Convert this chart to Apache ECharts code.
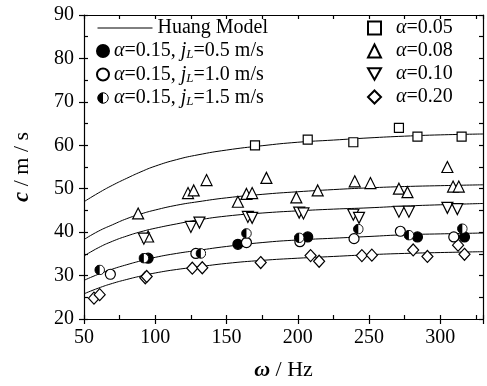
<!DOCTYPE html>
<html>
<head>
<meta charset="utf-8">
<script src="https://cdn.jsdelivr.net/npm/echarts@6/dist/echarts.min.js"></script>
<style>
  html, body {margin: 0; padding: 0; background: #fff;}
  #chart {width: 487px; height: 386px;}
</style>
</head>
<body>
<div id="chart"></div>
<script>
// model curves
const curveX = [50, 60, 70, 80, 90, 100, 115, 130, 150, 175, 200, 225, 250, 275, 300, 330];
const curveA005 = [47.0, 49.0, 50.8, 52.4, 53.9, 55.2, 56.7, 57.8, 58.9, 59.9, 60.7, 61.2, 61.7, 62.1, 62.4, 62.6];
const curveA008 = [38.3, 40.2, 41.7, 43.1, 44.2, 45.1, 46.2, 47.0, 47.9, 48.7, 49.3, 49.8, 50.2, 50.5, 50.7, 50.9];
const curveA010 = [34.5, 36.4, 37.9, 39.1, 40.1, 40.9, 41.9, 42.8, 43.7, 44.4, 44.9, 45.3, 45.6, 46.0, 46.3, 46.6];
const curveA015 = [28.9, 30.3, 31.5, 32.5, 33.4, 34.2, 35.1, 35.8, 36.7, 37.6, 38.2, 38.6, 39.0, 39.4, 39.6, 39.8];
const curveA020 = [25.8, 27.1, 28.2, 29.1, 29.9, 30.6, 31.4, 32.0, 32.8, 33.5, 34.0, 34.4, 34.8, 35.1, 35.3, 35.5];

// measured points [omega, c]
const ptsA005 = [[170, 60], [207, 61.3], [239, 60.7], [271, 64], [284, 62], [315, 62]];
const ptsA008 = [[88, 44.3], [95, 39], [123, 49], [127, 49.6], [136, 52], [158, 47], [164, 48.8], [168, 49],
  [178, 52.5], [199, 48], [214, 49.6], [240, 51.7], [251, 51.3], [271, 50], [277, 49.2], [305, 55], [309, 50.5], [313, 50.5]];
const ptsA010 = [[92, 38.5], [125, 41.2], [131, 42.2], [165, 43.5], [168, 43.3], [201, 44.5], [204, 44.3],
  [239, 44], [243, 43.3], [271, 44.7], [278, 44.7], [305, 45.6], [312, 45.3]];
const ptsA020 = [[57, 24.8], [61, 25.6], [93, 29.5], [94, 29.8], [126, 31.7], [133, 31.8], [174, 33], [209, 34.6],
  [215, 33.3], [245, 34.6], [252, 34.7], [281, 35.9], [291, 34.4], [312.5, 37], [317, 34.9]];
const ptsJ05 = [[95, 34], [158, 37.2], [207, 38.9], [284, 38.9], [317, 38.9]];
const ptsJ10 = [[68.5, 30.3], [128.5, 35.1], [164, 37.6], [201.5, 37.8], [239.5, 38.5], [272, 40.2], [309.5, 38.9]];
const ptsJ15 = [[61, 31.3], [92, 34], [132, 35.1], [164, 39.7], [201, 38.7], [242.5, 40.7], [278, 39.3], [315.5, 40.8]];

const FONT = 'Liberation Serif';
const FS = 20;

const halfSvg = "<svg xmlns='http://www.w3.org/2000/svg' width='24' height='24'>" +
  "<circle cx='12' cy='12' r='10.5' fill='#fff' stroke='#000' stroke-width='2'/>" +
  "<path d='M12 1.5 A10.5 10.5 0 0 0 12 22.5 Z' fill='#000'/></svg>";
const halfCircle = 'image://data:image/svg+xml;charset=utf-8,' + encodeURIComponent(halfSvg);
const downTri = 'path://M0,0 L12,0 L6,10.4 Z';

const rich = {
  i: {fontFamily: FONT, fontStyle: 'italic', fontSize: FS, color: '#000'},
  s: {fontFamily: FONT, fontStyle: 'italic', fontSize: 13, color: '#000', padding: [8, 0, 0, 0]},
  g: {width: 10}
};

const legendNames = {
  'j05': '{i|α}=0.15, {i|j}{s|L}=0.5 m/s',
  'j10': '{i|α}=0.15, {i|j}{s|L}=1.0 m/s',
  'j15': '{i|α}=0.15, {i|j}{s|L}=1.5 m/s',
  'a005': '{g|}{i|α}=0.05',
  'a008': '{g|}{i|α}=0.08',
  'a010': '{g|}{i|α}=0.10',
  'a020': '{g|}{i|α}=0.20'
};

function curve(ys) {
  return {
    name: 'Huang Model', type: 'line', smooth: true, symbol: 'none',
    lineStyle: {color: '#000', width: 1}, itemStyle: {color: '#000'},
    data: curveX.map((x, i) => [x, ys[i]]), z: 1
  };
}
function pts(name, data, symbol, size, filled) {
  return {
    name, type: 'scatter', data, symbol, symbolSize: size,
    itemStyle: {color: filled ? '#000' : '#fff', borderColor: '#000', borderWidth: 1.2, opacity: 1},
    z: 3
  };
}

const tickLine = {color: '#000', width: 1.2};
const legendText = {fontFamily: FONT, fontSize: FS, color: '#000', lineHeight: 18, rich};
const chart = echarts.init(document.getElementById('chart'));
chart.setOption({
  animation: false,
  backgroundColor: '#fff',
  grid: {left: 84, right: 4, top: 15, bottom: 65},
  legend: [
    {
      data: ['Huang Model'], left: 97, top: 18, padding: 0, itemWidth: 55, itemHeight: 14,
      itemStyle: {opacity: 0}, lineStyle: {width: 1},
      textStyle: {fontFamily: FONT, fontSize: FS, color: '#000', lineHeight: 18}
    },
    {
      data: ['j05', 'j10', 'j15'], orient: 'vertical', left: 96, top: 41, padding: 0,
      itemWidth: 12, itemHeight: 12, itemGap: 3,
      formatter: n => legendNames[n], textStyle: legendText
    },
    {
      data: ['a005', 'a008', 'a010', 'a020'], orient: 'vertical', left: 367, top: 18, padding: 0,
      itemWidth: 13, itemHeight: 13, itemGap: 3,
      formatter: n => legendNames[n], textStyle: legendText
    }
  ],
  xAxis: [
    {
      type: 'value', position: 'bottom', min: 50, max: 330, interval: 50,
      axisLine: {show: true, lineStyle: tickLine},
      axisTick: {show: true, inside: false, length: 5, lineStyle: tickLine},
      splitLine: {show: false},
      axisLabel: {
        fontFamily: FONT, fontSize: FS, color: '#000', margin: 9,
        formatter: v => (v % 50 === 0 ? String(v) : '')
      },
      name: '{i|ω} / Hz', nameLocation: 'middle', nameGap: 40,
      nameTextStyle: {fontFamily: FONT, fontSize: 22, color: '#000',
        rich: {i: {fontFamily: FONT, fontStyle: 'italic', fontWeight: 'bold', fontSize: 22, color: '#000'}}}
    },
    {
      type: 'value', position: 'bottom', min: 50, max: 330, interval: 25,
      axisLine: {show: false}, axisLabel: {show: false}, splitLine: {show: false},
      axisTick: {show: true, inside: true, length: 4, lineStyle: tickLine}
    },
    {
      type: 'value', position: 'top', min: 50, max: 330, interval: 25,
      axisLine: {show: true, lineStyle: tickLine}, axisLabel: {show: false}, splitLine: {show: false},
      axisTick: {show: true, inside: true, length: 4, lineStyle: tickLine}
    }
  ],
  yAxis: [
    {
      type: 'value', position: 'left', min: 20, max: 90, interval: 10,
      axisLine: {show: true, lineStyle: tickLine},
      axisTick: {show: true, inside: false, length: 5, lineStyle: tickLine},
      splitLine: {show: false},
      axisLabel: {fontFamily: FONT, fontSize: FS, color: '#000', margin: 10},
      name: '{i|c} / m / s', nameLocation: 'middle', nameGap: 50, nameRotate: 90,
      nameTextStyle: {fontFamily: FONT, fontSize: 22, color: '#000',
        rich: {i: {fontFamily: FONT, fontStyle: 'italic', fontWeight: 'bold', fontSize: 23, color: '#000'}}}
    },
    {
      type: 'value', position: 'left', min: 20, max: 90, interval: 5,
      axisLine: {show: false}, axisLabel: {show: false}, splitLine: {show: false},
      axisTick: {show: true, inside: true, length: 4, lineStyle: tickLine}
    },
    {
      type: 'value', position: 'right', min: 20, max: 90, interval: 5,
      axisLine: {show: true, lineStyle: tickLine}, axisLabel: {show: false}, splitLine: {show: false},
      axisTick: {show: true, inside: true, length: 4, lineStyle: tickLine}
    }
  ],
  series: [
    curve(curveA005), curve(curveA008), curve(curveA010), curve(curveA015), curve(curveA020),
    pts('a005', ptsA005, 'rect', 9, false),
    pts('a008', ptsA008, 'triangle', 11, false),
    pts('a010', ptsA010, downTri, 11, false),
    pts('a020', ptsA020, 'diamond', [11, 12], false),
    pts('j05', ptsJ05, 'circle', 10, true),
    pts('j10', ptsJ10, 'circle', 10, false),
    pts('j15', ptsJ15, halfCircle, 11, true)
  ]
});
</script>
</body>
</html>
